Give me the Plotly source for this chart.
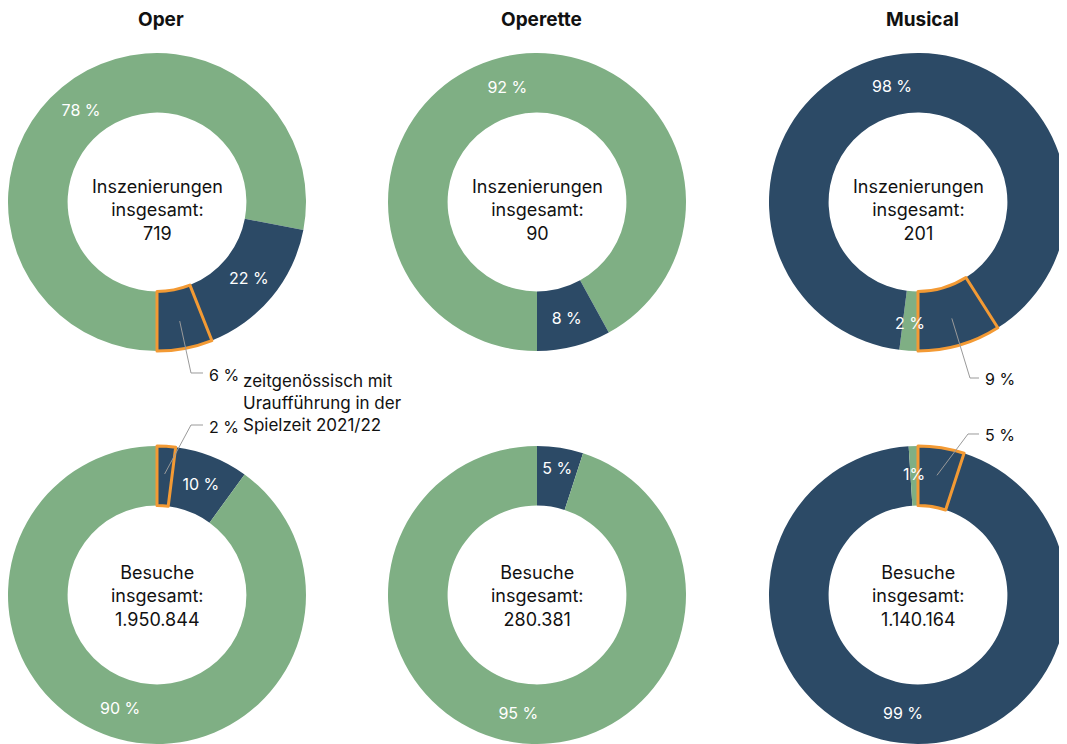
import math
import plotly.graph_objects as go

W, H = 1067, 744
OFF = 8                      # page body margin of the browser
FW, FH = W - OFF, H - OFF    # figure size
FONT = "Inter"
GREEN = "#7FAF84"
DARK = "#2C4A66"
ORANGE = "#F39A34"
LEADER = "#9A9A9A"
TEXT = "#111111"

# ---------------- data ----------------
genres = ["Oper", "Operette", "Musical"]
name_green = "nicht zeitgenössisch"
name_dark = "zeitgenössisch"
name_prem = "zeitgenössisch mit Uraufführung"

# Inszenierungen (top row), shares in %
prod_totals = ["719", "90", "201"]
prod_green = [78, 92, 2]
prod_dark = [22, 8, 98]          # all contemporary works
prod_premiere = [6, 0, 9]        # contemporary with world premiere (part of dark)
prod_green_lbl = ["78 %", "92 %", "2 %"]
prod_dark_lbl = ["22 %", "8 %", "98 %"]
prod_prem_lbl = ["6 %", "", "9 %"]

# Besuche (bottom row), shares in %
visit_totals = ["1.950.844", "280.381", "1.140.164"]
visit_green = [90, 95, 1]
visit_dark = [10, 5, 99]
visit_premiere = [2, 0, 5]
visit_green_lbl = ["90 %", "95 %", "1%"]
visit_dark_lbl = ["10 %", "5 %", "99 %"]
visit_prem_lbl = ["2 %", "", "5 %"]

legend_note = "zeitgenössisch mit<br>Uraufführung in der<br>Spielzeit 2021/22"

# ---------------- layout geometry (page pixels) ----------------
COL_CX = [157, 537, 918]
ROW_CY = [202, 595]
R = 149
HOLE = 0.6
RMID = R * (1 + HOLE) / 2


def px(x):
    return (x - OFF) / FW


def py(y):
    return 1 - (y - OFF) / FH


fig = go.Figure()
annotations = []
shapes = []


def slice_point(cx, cy, rot, values, idx, r):
    """Point at radius r on the mid angle of slice idx (clockwise pie, rotation rot deg from 12 o'clock)."""
    tot = sum(values)
    a = rot + (sum(values[:idx]) + values[idx] / 2) / tot * 360
    a = math.radians(a)
    return cx + r * math.sin(a), cy - r * math.cos(a)


rows = [
    (prod_totals, prod_green, prod_dark, prod_premiere, prod_green_lbl, prod_dark_lbl,
     "Inszenierungen<br>insgesamt:<br>"),
    (visit_totals, visit_green, visit_dark, visit_premiere, visit_green_lbl, visit_dark_lbl,
     "Besuche<br>insgesamt:<br>"),
]

callouts = {}

for row, (tots, gr, dk, pr, gl, dl, centre) in enumerate(rows):
    cy = ROW_CY[row]
    for i, g in enumerate(genres):
        cx = COL_CX[i]
        tiny_green = gr[i] < 4
        if row == 0:
            # clockwise from 6 o'clock: green, rest of dark, premiere
            rot = 180
            vals = [gr[i], dk[i] - pr[i]]
            cols = [GREEN, DARK]
            names = [name_green, name_dark]
            texts = ["" if tiny_green else gl[i], dl[i]]
            g_idx = 0
        else:
            # clockwise from 12 o'clock, rotated by the premiere share: rest of dark, green, premiere
            rot = pr[i] / (gr[i] + dk[i]) * 360
            vals = [dk[i] - pr[i], gr[i]]
            cols = [DARK, GREEN]
            names = [name_dark, name_green]
            texts = [dl[i], "" if tiny_green else gl[i]]
            g_idx = 1
        lcol = list(cols)
        lw = [0] * len(vals)
        if pr[i]:
            vals.append(pr[i])
            cols.append(DARK)
            names.append(name_prem)
            texts.append("")
            lcol.append(ORANGE)
            lw.append(3)
        y0 = max(0.0, py(cy + R))
        y1 = py(cy - R)
        fig.add_trace(go.Pie(
            values=vals, labels=names, sort=False,
            direction="clockwise", rotation=rot,
            hole=HOLE,
            domain=dict(x=[max(0.0, px(cx - R)), min(1.0, px(cx + R))], y=[y0, y1]),
            marker=dict(colors=cols, line=dict(color=lcol, width=lw)),
            text=texts, textinfo="text", textposition="inside",
            insidetextorientation="horizontal",
            textfont=dict(family=FONT, size=16, color="white"),
            showlegend=False, hoverinfo="skip",
        ))
        if tiny_green:
            x, y = slice_point(cx, cy, rot, vals, g_idx, RMID + 2)
            annotations.append(dict(x=px(x), y=py(y), xref="paper", yref="paper", text=gl[i],
                                    xanchor="center", yanchor="middle",
                                    showarrow=False, font=dict(family=FONT, size=16, color="white")))
        if pr[i]:
            callouts[(row, i)] = slice_point(cx, cy, rot, vals, len(vals) - 1, RMID + 2)
        # centre text
        annotations.append(dict(x=px(cx), y=py(cy + (8 if row == 0 else 1)), xref="paper", yref="paper",
                                text=centre + tots[i], showarrow=False, align="center",
                                xanchor="center", yanchor="middle",
                                font=dict(family=FONT, size=18, color=TEXT)))

# column titles
for i, g in enumerate(genres):
    annotations.append(dict(x=px(COL_CX[i] + 4), y=py(20), xref="paper", yref="paper",
                            text=f"<b>{g}</b>", showarrow=False,
                            xanchor="center", yanchor="middle",
                            font=dict(family=FONT, size=19, color=TEXT)))


def path(pts):
    return "M " + " L ".join(f"{px(x):.5f} {py(y):.5f}" for x, y in pts)


def leader(key, elbow, end, label, ly):
    sx, sy = callouts[key]
    shapes.append(dict(type="path", path=path([(sx, sy), elbow, end]), xref="paper", yref="paper",
                       line=dict(color=LEADER, width=1)))
    annotations.append(dict(x=px(end[0] + 4), y=py(ly), xref="paper", yref="paper", text=label,
                            xanchor="left", yanchor="middle", showarrow=False,
                            font=dict(family=FONT, size=16, color=TEXT)))


leader((0, 0), (191, 373), (203, 373), prod_prem_lbl[0], 375)
leader((1, 0), (191, 425), (203, 425), visit_prem_lbl[0], 427)
leader((0, 2), (970, 378), (979, 378), prod_prem_lbl[2], 379)
leader((1, 2), (968, 434), (979, 434), visit_prem_lbl[2], 435)

annotations.append(dict(x=px(241), y=py(403), xref="paper", yref="paper", text=legend_note,
                        xanchor="left", yanchor="middle", align="left", showarrow=False,
                        font=dict(family=FONT, size=17, color=TEXT)))

fig.update_layout(
    width=FW, height=FH,
    margin=dict(l=0, r=0, t=0, b=0),
    paper_bgcolor="white", plot_bgcolor="white",
    annotations=annotations, shapes=shapes,
    font=dict(family=FONT),
)

fig.write_html("out.html")
